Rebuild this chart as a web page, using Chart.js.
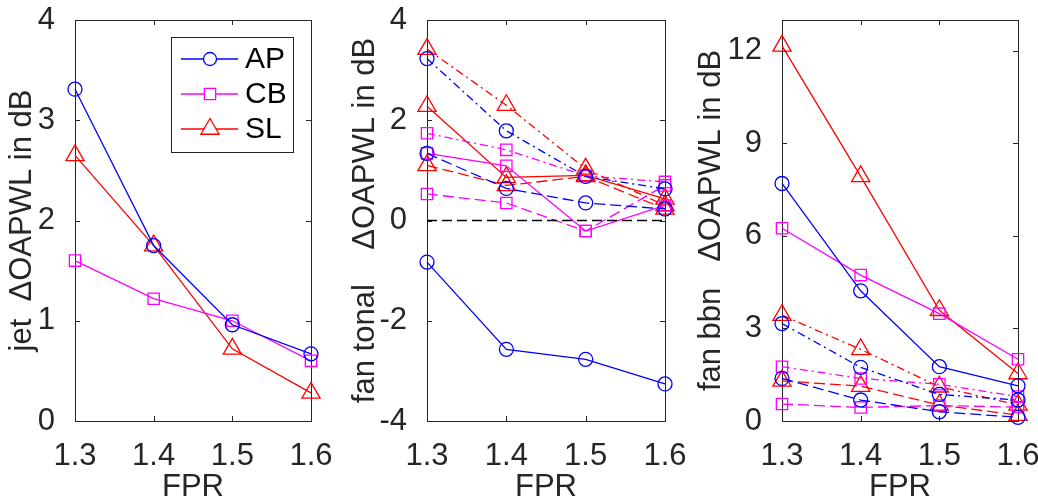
<!DOCTYPE html>
<html>
<head>
<meta charset="utf-8">
<script src="https://cdn.jsdelivr.net/npm/chart.js@4"></script>
<style>
  html, body { margin: 0; padding: 0; background: #fff; }
  body { width: 1038px; height: 500px; position: relative; overflow: hidden; }
  canvas { position: absolute; top: 0; }
</style>
</head>
<body>
<canvas id="jetChart" width="340" height="500" style="left:0px"></canvas>
<canvas id="tonalChart" width="346" height="500" style="left:343px"></canvas>
<canvas id="bbnChart" width="349" height="500" style="left:689px"></canvas>
<script>
// x categories (FPR)
const fprLabels = ['1.3', '1.4', '1.5', '1.6'];

// jet
const jetAP = [3.31, 1.75, 0.96, 0.67];
const jetCB = [1.60, 1.22, 1.00, 0.60];
const jetSL = [2.65, 1.75, 0.72, 0.28];
const jetTicks = [0, 1, 2, 3, 4];

// fan tonal (solid / dashed / dash-dot)
const tonalAP = [-0.83, -2.57, -2.77, -3.26];
const tonalAPdash = [1.34, 0.64, 0.35, 0.23];
const tonalAPdashdot = [3.23, 1.79, 0.88, 0.63];
const tonalCB = [1.34, 1.09, -0.21, 0.30];
const tonalCBdash = [0.53, 0.35, -0.21, 0.70];
const tonalCBdashdot = [1.74, 1.41, 0.89, 0.77];
const tonalSL = [2.28, 0.86, 0.90, 0.43];
const tonalSLdash = [1.10, 0.70, 0.88, 0.23];
const tonalSLdashdot = [3.42, 2.30, 1.03, 0.30];
const tonalZero = [0, 0, 0, 0];
const tonalTicks = [-4, -2, 0, 2, 4];

// fan bbn
const bbnAP = [7.70, 4.22, 1.76, 1.14];
const bbnAPdash = [1.38, 0.68, 0.30, 0.12];
const bbnAPdashdot = [3.16, 1.74, 0.86, 0.68];
const bbnCB = [6.25, 4.73, 3.48, 2.00];
const bbnCBdash = [0.55, 0.44, 0.50, 0.45];
const bbnCBdashdot = [1.76, 1.38, 1.19, 0.79];
const bbnSL = [12.16, 7.93, 3.59, 1.54];
const bbnSLdash = [1.30, 1.13, 0.52, 0.19];
const bbnSLdashdot = [3.43, 2.32, 1.11, 0.52];
const bbnTicks = [0, 3, 6, 9, 12];

const BLUE = 'rgb(0,0,255)';
const MAGENTA = 'rgb(255,0,255)';
const RED = 'rgb(255,0,0)';
const AXIS = '#262626';
const FONT = 'Liberation Sans, Arial, sans-serif';

const DASHES = { solid: [], dash: [11, 5], dashdot: [8, 4, 2, 4] };
const MARKERS = {
    circle: { style: 'circle', r: 7 },
    square: { style: 'rect', r: 8 },
    tri: { style: 'triangle', r: 10.5 }
};

function series(label, values, color, dash, marker) {
    const m = MARKERS[marker];
    return {
        label: label,
        data: values,
        borderColor: color,
        borderWidth: 1.3,
        borderDash: DASHES[dash],
        pointStyle: m.style,
        pointRadius: m.r,
        pointHoverRadius: m.r,
        pointBorderColor: color,
        pointBackgroundColor: 'rgba(0,0,0,0)',
        pointBorderWidth: 1.3,
        tension: 0,
        fill: false,
        clip: false
    };
}

// box around the axes with inward ticks, like matlab
const framePlugin = {
    id: 'frame',
    beforeDatasetsDraw(chart) {
        const { ctx, chartArea } = chart;
        const { left, right, top, bottom } = chartArea;
        const xs = chart.scales.x, ys = chart.scales.y;
        const t = 5;
        ctx.save();
        ctx.strokeStyle = AXIS;
        ctx.lineWidth = 1;
        ctx.strokeRect(left + 0.5, top + 0.5, right - left, bottom - top);
        ctx.beginPath();
        xs.ticks.forEach((tk, i) => {
            const px = Math.round(xs.getPixelForTick(i)) + 0.5;
            ctx.moveTo(px, bottom); ctx.lineTo(px, bottom - t);
            ctx.moveTo(px, top); ctx.lineTo(px, top + t);
        });
        ys.ticks.forEach(tk => {
            const py = Math.round(ys.getPixelForValue(tk.value)) + 0.5;
            ctx.moveTo(left, py); ctx.lineTo(left + t, py);
            ctx.moveTo(right, py); ctx.lineTo(right - t, py);
        });
        ctx.stroke();
        ctx.restore();
    }
};

// legend box of the first panel
const legendPlugin = {
    id: 'boxLegend',
    afterDraw(chart) {
        const ctx = chart.ctx;
        const items = chart.data.datasets;
        const bx = 171, by = 37, bw = 122, bh = 115;
        ctx.save();
        ctx.fillStyle = '#fff';
        ctx.fillRect(bx, by, bw, bh);
        ctx.strokeStyle = AXIS;
        ctx.lineWidth = 1;
        ctx.strokeRect(bx + 0.5, by + 0.5, bw, bh);
        items.forEach((ds, i) => {
            const y = 59 + i * 35;
            ctx.strokeStyle = ds.borderColor;
            ctx.lineWidth = 1.3;
            ctx.setLineDash([]);
            ctx.beginPath();
            ctx.moveTo(181, y); ctx.lineTo(238, y);
            ctx.stroke();
            ctx.fillStyle = '#fff';
            Chart.helpers.drawPoint(ctx, {
                pointStyle: ds.pointStyle,
                radius: ds.pointStyle === 'circle' ? 6.5 : ds.pointRadius,
                borderWidth: 1.3,
                rotation: 0
            }, 210, y);
            ctx.fillStyle = '#000';
            ctx.font = '30px ' + FONT;
            ctx.textBaseline = 'middle';
            ctx.textAlign = 'left';
            ctx.fillText(ds.label, 245, y + 1);
        });
        ctx.restore();
    }
};

function makeChart(id, datasets, ticks, yTitle, yWidth, padRight, plugins) {
    const font = { family: FONT, size: 31 };
    return new Chart(document.getElementById(id), {
        type: 'line',
        data: { labels: fprLabels, datasets: datasets },
        options: {
            responsive: false,
            animation: false,
            devicePixelRatio: 1,
            layout: { padding: { top: 20, right: padRight, left: 0, bottom: 0 } },
            plugins: { legend: { display: false }, tooltip: { enabled: false } },
            scales: {
                x: {
                    type: 'category',
                    offset: false,
                    grid: { display: false },
                    border: { display: false },
                    ticks: { color: AXIS, font: font, padding: 9, maxRotation: 0, autoSkip: false },
                    title: { display: true, text: 'FPR', color: AXIS, font: font, padding: { top: 0, bottom: -6 } },
                    afterFit(s) { s.height = 79; s.paddingLeft = 0; s.paddingRight = 0; }
                },
                y: {
                    type: 'linear',
                    min: ticks[0],
                    max: id === 'bbnChart' ? 13 : ticks[ticks.length - 1],
                    grid: { display: false },
                    border: { display: false },
                    afterBuildTicks(s) { s.ticks = ticks.map(v => ({ value: v })); },
                    ticks: { color: AXIS, font: font, padding: 12 },
                    title: { display: true, text: yTitle, color: AXIS, font: font, padding: { top: 4, bottom: 4 } },
                    afterFit(s) { s.width = yWidth; s.paddingTop = 0; s.paddingBottom = 0; }
                }
            }
        },
        plugins: plugins
    });
}

makeChart('jetChart', [
    series('AP', jetAP, BLUE, 'solid', 'circle'),
    series('CB', jetCB, MAGENTA, 'solid', 'square'),
    series('SL', jetSL, RED, 'solid', 'tri')
], jetTicks, 'jet  \u0394OAPWL in dB', 75, 29, [framePlugin, legendPlugin]);

const zeroLine = {
    data: tonalZero, borderColor: '#000', borderWidth: 1.3, borderDash: [10, 5],
    pointRadius: 0, pointHoverRadius: 0, tension: 0, fill: false
};

makeChart('tonalChart', [
    zeroLine,
    series('AP', tonalAP, BLUE, 'solid', 'circle'),
    series('AP', tonalAPdash, BLUE, 'dash', 'circle'),
    series('AP', tonalAPdashdot, BLUE, 'dashdot', 'circle'),
    series('CB', tonalCB, MAGENTA, 'solid', 'square'),
    series('CB', tonalCBdash, MAGENTA, 'dash', 'square'),
    series('CB', tonalCBdashdot, MAGENTA, 'dashdot', 'square'),
    series('SL', tonalSL, RED, 'solid', 'tri'),
    series('SL', tonalSLdash, RED, 'dash', 'tri'),
    series('SL', tonalSLdashdot, RED, 'dashdot', 'tri')
], tonalTicks, 'fan tonal    \u0394OAPWL in dB', 84, 24, [framePlugin]);

makeChart('bbnChart', [
    series('AP', bbnAP, BLUE, 'solid', 'circle'),
    series('AP', bbnAPdash, BLUE, 'dash', 'circle'),
    series('AP', bbnAPdashdot, BLUE, 'dashdot', 'circle'),
    series('CB', bbnCB, MAGENTA, 'solid', 'square'),
    series('CB', bbnCBdash, MAGENTA, 'dash', 'square'),
    series('CB', bbnCBdashdot, MAGENTA, 'dashdot', 'square'),
    series('SL', bbnSL, RED, 'solid', 'tri'),
    series('SL', bbnSLdash, RED, 'dash', 'tri'),
    series('SL', bbnSLdashdot, RED, 'dashdot', 'tri')
], bbnTicks, 'fan bbn   \u0394OAPWL in dB', 93, 20, [framePlugin]);
</script>
</body>
</html>
